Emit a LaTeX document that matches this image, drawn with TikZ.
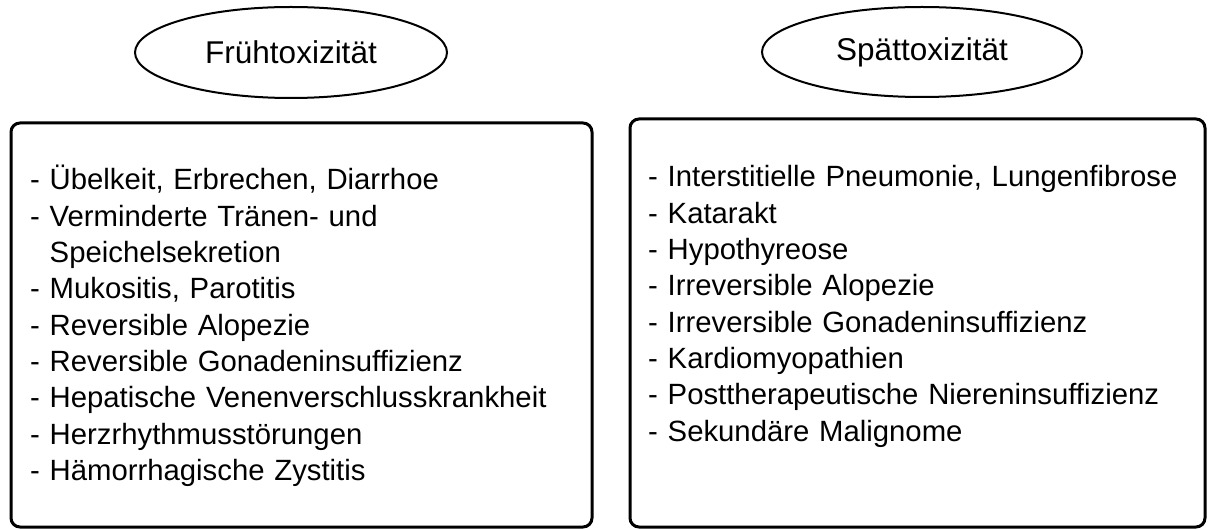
\documentclass[tikz,border=0pt]{standalone}
\usepackage{fontspec}
\setmainfont{Liberation Sans}
\usetikzlibrary{shapes.geometric}
\begin{document}
\begin{tikzpicture}[x=1pt,y=-1pt,
  titleell/.style={draw, line width=2pt, ellipse, inner sep=0pt,
    font=\fontsize{31.5}{36}\selectfont},
  listbox/.style={draw, line width=3pt, rounded corners=9pt},
  listtext/.style={anchor=base west, inner sep=0pt, text width=560pt, align=left,
    font=\fontsize{29.3}{36.3}\selectfont}]
\useasboundingbox (0,0) rectangle (1208,529);
\node[titleell, minimum width=312pt, minimum height=91pt] (t1) at (291,52.5) {Frühtoxizität};
\node[titleell, minimum width=320pt, minimum height=90pt] (t2) at (922,52) {Spättoxizität};
\draw[listbox] (11,123) rectangle (592,527);
\draw[listbox] (630,119) rectangle (1205,527);
\node[listtext] (l1) at (30,190) {- Übelkeit, Erbrechen, Diarrhoe\\
- Verminderte Tränen- und\\
\phantom{- }Speichelsekretion\\
- Mukositis, Parotitis\\
- Reversible Alopezie\\
- Reversible Gonadeninsuffizienz\\
- Hepatische Venenverschlusskrankheit\\
- Herzrhythmusstörungen\\
- Hämorrhagische Zystitis};
\node[listtext] (l2) at (648,187) {- Interstitielle Pneumonie, Lungenfibrose\\
- Katarakt\\
- Hypothyreose\\
- Irreversible Alopezie\\
- Irreversible Gonadeninsuffizienz\\
- Kardiomyopathien\\
- Posttherapeutische Niereninsuffizienz\\
- Sekundäre Malignome};
\end{tikzpicture}
\end{document}
